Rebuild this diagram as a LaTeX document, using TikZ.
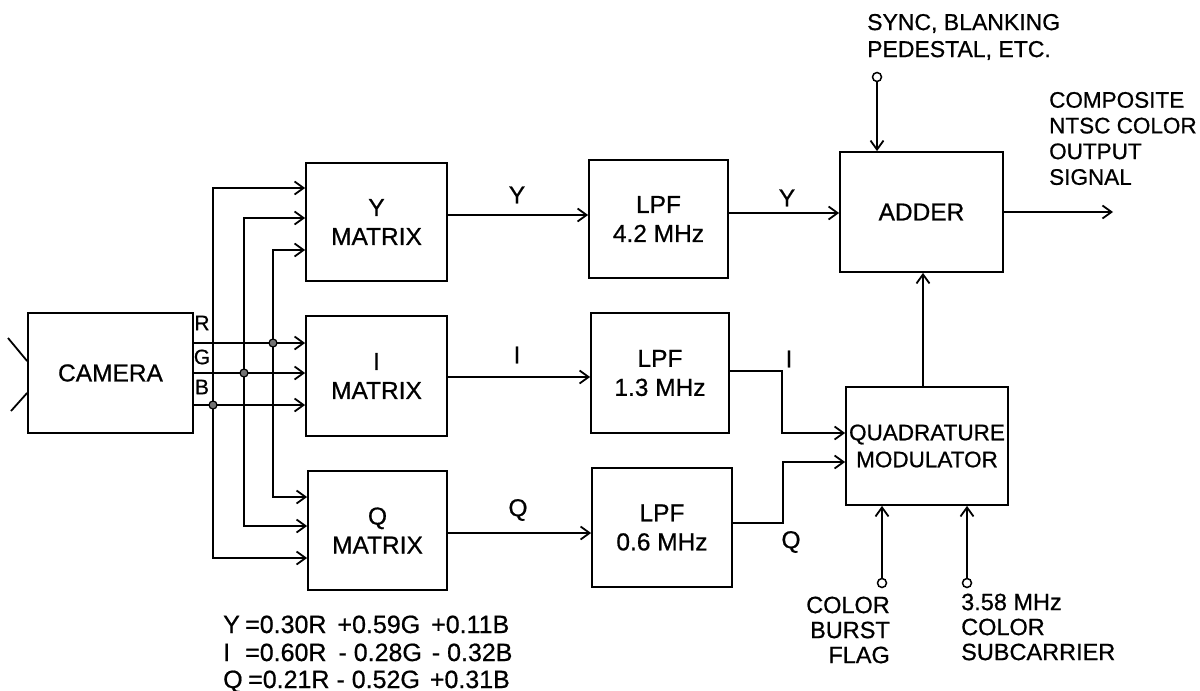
\documentclass[tikz,border=0pt]{standalone}
\usepackage{fontspec}
\setmainfont{Liberation Sans}[FakeBold=0.7]
\usetikzlibrary{arrows.meta}
\begin{document}
\begin{tikzpicture}[x=1pt,y=-1pt,
  every node/.style={inner sep=0pt, font=\fontsize{24.5}{29}\selectfont},
  blk/.style={draw, line width=1.8pt, align=center, rectangle},
  wire/.style={line width=1.8pt},
  arr/.style={wire, -{Straight Barb[length=9pt,width=13pt]}},
  term/.style={circle, draw, line width=1.5pt, fill=white, minimum size=9pt},
  jdot/.style={circle, draw, line width=1.2pt, fill=black!55, minimum size=8pt},
  small/.style={font=\fontsize{21}{24}\selectfont},
  eqn/.style={anchor=base west, font=\fontsize{25}{28}\selectfont},
]
\useasboundingbox (0,0) rectangle (1200,691);

% blocks
\node[blk, minimum width=165pt, minimum height=120pt] (cam) at (110.5,373) {CAMERA};
\node[blk, minimum width=141pt, minimum height=118pt] (ymat) at (376.5,222) {Y\\MATRIX};
\node[blk, minimum width=141pt, minimum height=120pt] (imat) at (376.5,376) {I\\MATRIX};
\node[blk, minimum width=139pt, minimum height=119pt] (qmat) at (377.5,530.5) {Q\\MATRIX};
\node[blk, minimum width=139pt, minimum height=118pt] (lpfa) at (658.5,219) {LPF\\4.2 MHz};
\node[blk, minimum width=138pt, minimum height=120pt] (lpfb) at (660,373) {LPF\\1.3 MHz};
\node[blk, minimum width=140pt, minimum height=119pt] (lpfc) at (662,527.5) {LPF\\0.6 MHz};
\node[blk, minimum width=163pt, minimum height=120pt] (adder) at (921.5,212) {ADDER};
\node[blk, minimum width=162pt, minimum height=118pt, font=\fontsize{22.5}{27}\selectfont] (quad) at (927,446) {QUADRATURE\\MODULATOR};

% camera lens marks
\coordinate (lensA) at (8,338);
\coordinate (lensB) at (11,411);
\draw[wire] (lensA) -- (cam.west |- 0,361);
\draw[wire] (lensB) -- (cam.west |- 0,393);

% R G B lines and bus
\coordinate (jR) at (273,343);
\coordinate (jG) at (244,373);
\coordinate (jB) at (213,405);
\draw[arr] (cam.east |- jR) -- (imat.west |- jR);
\draw[arr] (cam.east |- jG) -- (imat.west |- jG);
\draw[arr] (cam.east |- jB) -- (imat.west |- jB);
\draw[arr] (jB) |- (ymat.west |- 0,188);
\draw[arr] (jB) |- (qmat.west |- 0,558);
\draw[arr] (jG) |- (ymat.west |- 0,218);
\draw[arr] (jG) |- (qmat.west |- 0,526);
\draw[arr] (jR) |- (ymat.west |- 0,250);
\draw[arr] (jR) |- (qmat.west |- 0,497);
\node[jdot] (dR) at (jR) {};
\node[jdot] (dG) at (jG) {};
\node[jdot] (dB) at (jB) {};
\node[small] (lR) at (202,323) {R};
\node[small] (lG) at (202,357) {G};
\node[small] (lB) at (202,387) {B};

% matrix -> LPF
\draw[arr] (ymat.east |- 0,215) -- (lpfa.west |- 0,215);
\draw[arr] (imat.east |- 0,377) -- (lpfb.west |- 0,377);
\draw[arr] (qmat.east |- 0,533) -- (lpfc.west |- 0,533);
\node (ly1) at (517,195) {Y};
\node (li1) at (517,355) {I};
\node (lq1) at (518,510) {Q};

% LPF -> adder / modulator
\draw[arr] (lpfa.east |- 0,213) -- (adder.west |- 0,213);
\draw[arr] (lpfb.east |- 0,371) -- (782,371) -- (782,433) -- (quad.west |- 0,433);
\draw[arr] (lpfc.east |- 0,523) -- (783,523) -- (783,462) -- (quad.west |- 0,462);
\node (ly2) at (787,198) {Y};
\node (li2) at (789,359) {I};
\node (lq2) at (791,542) {Q};

% modulator -> adder
\draw[arr] (quad.north -| 923,0) -- (adder.south -| 923,0);

% sync input
\node[term] (sync) at (877,77) {};
\draw[arr] (sync) -- (sync |- adder.north);
\node[anchor=west, align=left, font=\fontsize{23}{27}\selectfont] (synct) at (867,37) {SYNC, BLANKING\\PEDESTAL, ETC.};

% output
\coordinate (out) at (1113,212);
\draw[arr] (adder.east |- out) -- (out);
\node[anchor=west, align=left, font=\fontsize{22.5}{25.7}\selectfont] (compt) at (1049,138.5) {COMPOSITE\\NTSC COLOR\\OUTPUT\\SIGNAL};

% bottom inputs
\node[term] (burst) at (882,583) {};
\draw[arr] (burst) -- (burst |- quad.south);
\node[term] (subc) at (967,583) {};
\draw[arr] (subc) -- (subc |- quad.south);
\node[anchor=east, align=right, font=\fontsize{23.5}{25}\selectfont] (burstt) at (890,630) {COLOR\\BURST\\FLAG};
\node[anchor=west, align=left, font=\fontsize{23.5}{25}\selectfont] (subct) at (961,627) {3.58 MHz\\COLOR\\SUBCARRIER};

% equations
\node[eqn] (eqy) at (223,633) {\makebox[22pt][l]{Y}=0.30R\hspace{11pt}+0.59G\hspace{11pt}+0.11B};
\node[eqn] (eqi) at (223,661) {\makebox[22pt][l]{I}=0.60R\hspace{12pt}-\ 0.28G\hspace{10pt}-\ 0.32B};
\node[eqn] (eqq) at (223,688) {\makebox[25pt][l]{Q}=0.21R\hspace{7pt}-\ 0.52G\hspace{10pt}+0.31B};
\end{tikzpicture}
\end{document}
